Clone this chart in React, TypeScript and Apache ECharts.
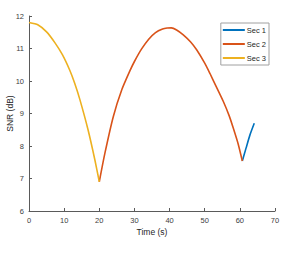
import React, { useEffect, useRef } from "react";
import * as echarts from "echarts";

const seriesNames = ["Sec 1", "Sec 2", "Sec 3"];
const seriesColors = ["#0072BD", "#D95319", "#EDB120"];

const sec1: [number, number][] = [
  [60.7, 7.54], [61.8, 7.95], [62.9, 8.35], [64.1, 8.7],
];
const sec2: [number, number][] = [
  [20.0, 6.9], [21.6, 7.78], [24.0, 8.91], [26.4, 9.73], [28.7, 10.31], [30.0, 10.6],
  [32.0, 10.98], [34.0, 11.28], [36.0, 11.49], [38.0, 11.6], [39.3, 11.63], [40.5, 11.635],
  [42.0, 11.57], [43.9, 11.42], [46.0, 11.2], [47.7, 10.96], [50.0, 10.55],
  [51.5, 10.23], [53.0, 9.89], [55.3, 9.37], [57.0, 8.92], [58.1, 8.56], [59.5, 8.07], [60.7, 7.54],
];
const sec3: [number, number][] = [
  [0, 11.8], [2.5, 11.73], [5.0, 11.51], [7.35, 11.18], [9.5, 10.81], [11.6, 10.33],
  [13.0, 9.93], [14.5, 9.42], [16.8, 8.5], [18.75, 7.57], [20.0, 6.9],
];
const xTicks = { min: 0, max: 70, interval: 10 };
const yTicks = { min: 6, max: 12, interval: 1 };

export default function App() {
  const ref = useRef<HTMLDivElement>(null);
  useEffect(() => {
    if (!ref.current) return;
    const chart = echarts.init(ref.current, undefined, { renderer: "svg" });
    const font = "Liberation Sans, Arial, sans-serif";
    const axisColor = "#5a5a5a";
    const labelColor = "#404040";
    const datasets = [sec1, sec2, sec3];
    chart.setOption({
      animation: false,
      backgroundColor: "#ffffff",
      textStyle: { fontFamily: font },
      grid: {
        left: 29,
        right: 18,
        top: 16,
        bottom: 47,
        containLabel: false,
        outerBoundsMode: "none",
      },
      legend: {
        right: 24,
        top: 23,
        orient: "vertical",
        data: seriesNames,
        icon: "rect",
        itemWidth: 22,
        itemHeight: 2,
        itemGap: 6,
        padding: [3, 3, 3, 2],
        borderColor: "#a0a0a0",
        borderWidth: 1,
        backgroundColor: "#ffffff",
        textStyle: { fontSize: 7.5, color: "#262626", padding: [0, 0, 0, -3] },
      },
      xAxis: {
        type: "value",
        min: xTicks.min,
        max: xTicks.max,
        interval: xTicks.interval,
        name: "Time (s)",
        nameLocation: "middle",
        nameGap: 16,
        nameMoveOverlap: false,
        nameTextStyle: { fontSize: 8.5, color: "#262626" },
        axisLine: { show: true, lineStyle: { color: axisColor, width: 1 } },
        axisTick: { show: true, inside: true, length: 3, lineStyle: { color: axisColor } },
        axisLabel: { fontSize: 7.5, color: labelColor, margin: 5 },
        splitLine: { show: false },
      },
      yAxis: {
        type: "value",
        min: yTicks.min,
        max: yTicks.max,
        interval: yTicks.interval,
        name: "SNR (dB)",
        nameLocation: "middle",
        nameGap: 15,
        nameMoveOverlap: false,
        nameTextStyle: { fontSize: 8.5, color: "#262626" },
        axisLine: { show: true, lineStyle: { color: axisColor, width: 1 } },
        axisTick: { show: true, inside: true, length: 3, lineStyle: { color: axisColor } },
        axisLabel: { fontSize: 7.5, color: labelColor, margin: 5 },
        splitLine: { show: false },
      },
      series: seriesNames.map((name, i) => ({
        name,
        type: "line",
        data: datasets[i],
        smooth: 0.2,
        showSymbol: false,
        lineStyle: { color: seriesColors[i], width: 1.6 },
        itemStyle: { color: seriesColors[i] },
      })),
    });
    return () => chart.dispose();
  }, []);
  return (
    <div
      ref={ref}
      style={{ position: "absolute", left: 0, top: 0, width: 293, height: 258 }}
    />
  );
}
